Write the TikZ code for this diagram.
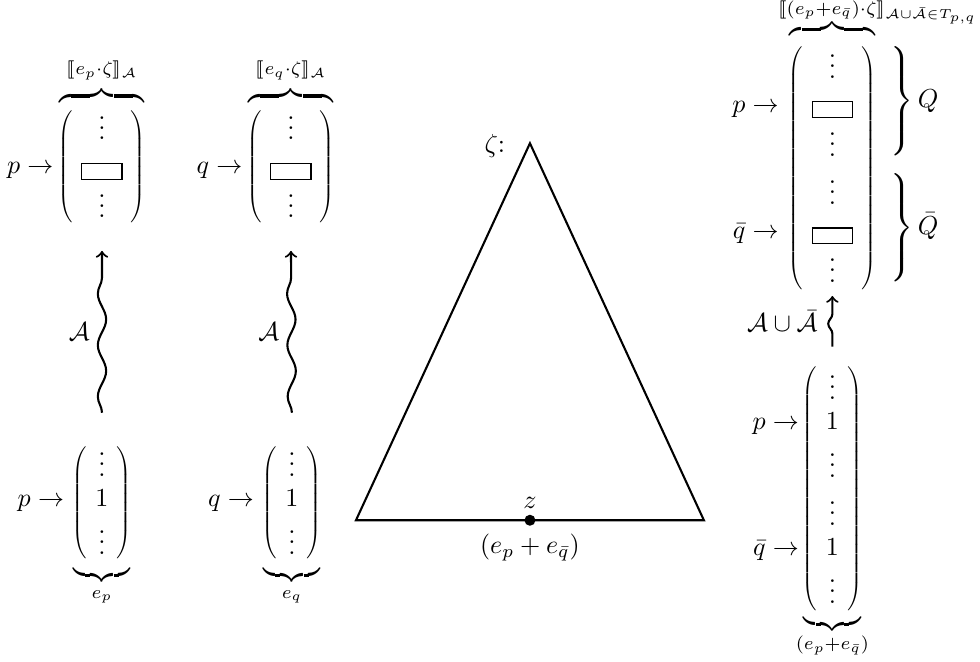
\documentclass[tikz,border=0pt]{standalone}
\usepackage{amsmath,amssymb,stmaryrd,mathtools}
\usepackage{tikz}
\usetikzlibrary{matrix,positioning,calc,decorations.pathmorphing}

\newcommand{\emptyslot}{{\fboxsep=0pt\fbox{\rule{0pt}{5.7pt}\rule{15pt}{0pt}}}}
\newcommand{\shiftlab}[2]{\raisebox{#1}[0pt][0pt]{$\scriptstyle #2$}}
\tikzset{
  vecmat/.style={matrix of math nodes,left delimiter=(,right delimiter=),inner xsep=1.8pt,
    nodes={inner sep=0pt,text height=9.5pt,text depth=0pt}},
  every delimiter/.style={font=\fontsize{6}{7}\selectfont},
  bracelab/.style={inner sep=0pt},
  rowlab/.style={anchor=base east,inner sep=0pt},
  squig/.style={->,thick,decorate,decoration={snake,amplitude=1.6pt,segment length=19.8pt,post length=2pt}},
}

\begin{document}
\begin{tikzpicture}[x=1cm,y=1cm]
  \useasboundingbox (0,0) rectangle (13.25,8.94);
  % unit vectors
  \matrix (mP0) [vecmat,row sep=2pt] at (1.379,2.141) {\vdots\\ 1\\[7pt] \vdots\\};
  \matrix (mQ0) [vecmat,row sep=2pt] at (3.947,2.141) {\vdots\\ 1\\[7pt] \vdots\\};
  \matrix (mPQ0) [vecmat,row sep=2pt] at (11.254,2.331)
    {\vdots\\ 1\\[7pt] \vdots\\[7pt] \vdots\\ 1\\[7pt] \vdots\\};
  % evaluated vectors
  \matrix (mP) [vecmat,row sep=5.5pt] at (1.379,6.689) {\vdots\\ \emptyslot\\ \vdots\\};
  \matrix (mQ) [vecmat,row sep=5.5pt] at (3.934,6.689) {\vdots\\ \emptyslot\\ \vdots\\};
  \matrix (mPQ) [vecmat,row sep=5.5pt] at (11.254,6.669)
    {\vdots\\ \emptyslot\\ \vdots\\[3.5pt] \vdots\\ \emptyslot\\ \vdots\\};

  \node[rowlab] (lP0) at ($(mP0.west |- mP0-2-1.base)+(-9.9pt,0)$) {$p\to$};
  \node[rowlab] (lQ0) at ($(mQ0.west |- mQ0-2-1.base)+(-9.9pt,0)$) {$q\to$};
  \node[rowlab] (lP) at ($(mP.west |- mP-2-1.base)+(-8.6pt,2pt)$) {$p\to$};
  \node[rowlab] (lQ) at ($(mQ.west |- mQ-2-1.base)+(-8.6pt,2pt)$) {$q\to$};
  \node[rowlab] (lPQa) at ($(mPQ.west |- mPQ-2-1.base)+(-10.6pt,2pt)$) {$p\to$};
  \node[rowlab] (lPQb) at ($(mPQ.west |- mPQ-5-1.base)+(-10.6pt,2pt)$) {$\bar q\to$};
  \node[rowlab] (lPQ0a) at ($(mPQ0.west |- mPQ0-2-1.base)+(-8.2pt,0)$) {$p\to$};
  \node[rowlab] (lPQ0b) at ($(mPQ0.west |- mPQ0-5-1.base)+(-8.2pt,0)$) {$\bar q\to$};

  \node[bracelab,below=0.8pt of mP0] (bP0) {$\underbrace{\hspace{21.9pt}}_{e_p}$};
  \node[bracelab,below=0.8pt of mQ0] (bQ0) {$\underbrace{\hspace{21.9pt}}_{e_q}$};
  \node[bracelab,below=0.8pt of mPQ0] (bPQ0) {$\underbrace{\hspace{21.9pt}}_{(e_p+e_{\bar q})}$};
  \node[bracelab,above=0pt of mP] (bP) {$\overbrace{\hspace{32.7pt}}^{\shiftlab{3.5pt}{\llbracket e_p\cdot\zeta\rrbracket_{\mathcal A}}}$};
  \node[bracelab,above=0pt of mQ] (bQ) {$\overbrace{\hspace{32.7pt}}^{\shiftlab{3.5pt}{\llbracket e_q\cdot\zeta\rrbracket_{\mathcal A}}}$};
  \node[bracelab,above=2pt of mPQ] (bPQ) {$\overbrace{\hspace{32.7pt}}^{\shiftlab{1.1pt}{\llbracket(e_p+e_{\bar q})\cdot\zeta\rrbracket_{\mathrlap{\mathcal A\cup\bar{\mathcal A}\in T_{p,q}}}}}$};

  \node[bracelab,anchor=west] (brQ) at (11.99,7.575) {$\left.\vcenter{\hrule height 23pt depth 23pt width 0pt}\right\}Q$};
  \node[bracelab,anchor=west] (brQbar) at (11.99,5.861) {$\left.\vcenter{\hrule height 23pt depth 23pt width 0pt}\right\}\bar Q$};

  % runs
  \draw[squig] ([yshift=11.4pt]mP0.north) -- node[left=1pt] {$\mathcal A$} ([yshift=-9.2pt]mP.south);
  \draw[squig] ([yshift=11.4pt]mQ0.north) -- node[left=1pt] {$\mathcal A$} ([yshift=-9.2pt]mQ.south);
  \draw[squig,decoration={pre length=5pt,segment length=12pt}] ([yshift=7.2pt]mPQ0.north) -- node[left=2pt] {$\mathcal A\cup\bar{\mathcal A}$} ([yshift=-1.7pt]mPQ.south);

  % the tree
  \coordinate (apex) at (7.165,7.003);
  \coordinate (bl) at (4.813,1.906);
  \coordinate (br) at (9.517,1.906);
  \draw[thick] (apex) -- (bl) -- (br) -- cycle;
  \node[circle,fill,inner sep=1.5pt] (z) at (7.165,1.906) {};
  \node[above=-1.2pt of z] (zlab) {$z$};
  \node[below=-0.7pt of z] (zval) {$(e_p+e_{\bar q})$};
  \node[left=6pt of apex,yshift=-1pt] (zeta) {$\zeta$:};
\end{tikzpicture}
\end{document}
